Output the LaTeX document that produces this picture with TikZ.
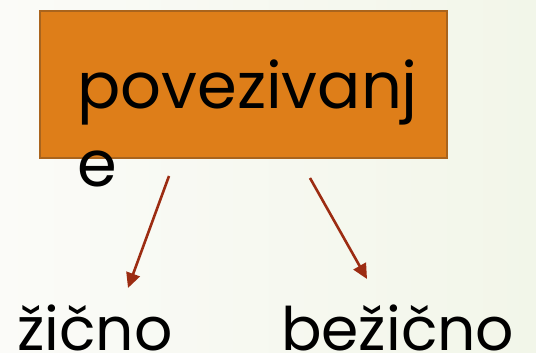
\documentclass[tikz,border=0pt]{standalone}
\usepackage{fontspec}
\setmainfont{Poppins}
\usepackage{xcolor}
\usetikzlibrary{arrows.meta}
\definecolor{boxfill}{HTML}{DE7E19}
\definecolor{boxline}{HTML}{A9641D}
\definecolor{arrowred}{HTML}{9C2C12}
\definecolor{bgleft}{HTML}{FBFBF8}
\definecolor{bgright}{HTML}{F2F6E9}
\tikzset{
  conn/.style={arrowred, line width=2.6pt, -{Triangle[length=15pt, width=14pt]}},
  word/.style={inner sep=0pt, font=\fontsize{60}{72}\selectfont}
}

\begin{document}
\begin{tikzpicture}[x=1pt, y=-1pt]
  \shade[left color=bgleft, right color=bgright] (0, 0) rectangle (536, 353);
  \useasboundingbox (0, 0) rectangle (536, 353);

  \draw[boxline, fill=boxfill, line width=1.5pt] (40, 11) rectangle (447, 158);
  \node[inner sep=0pt, anchor=base west, align=left,
        font=\fontsize{64}{78}\selectfont] (title) at (77, 186) {povezivanj\\e};

  \node[word, anchor=base west] (wired) at (17, 350) {žično};
  \node[word, anchor=base west] (wireless) at (281, 350) {bežično};

  \coordinate (wiredFrom) at (169, 176);
  \coordinate (wiredTo) at (128, 288);
  \coordinate (wirelessFrom) at (310, 178);
  \coordinate (wirelessTo) at (367, 279);
  \draw[conn] (wiredFrom) -- (wiredTo);
  \draw[conn] (wirelessFrom) -- (wirelessTo);
\end{tikzpicture}
\end{document}
